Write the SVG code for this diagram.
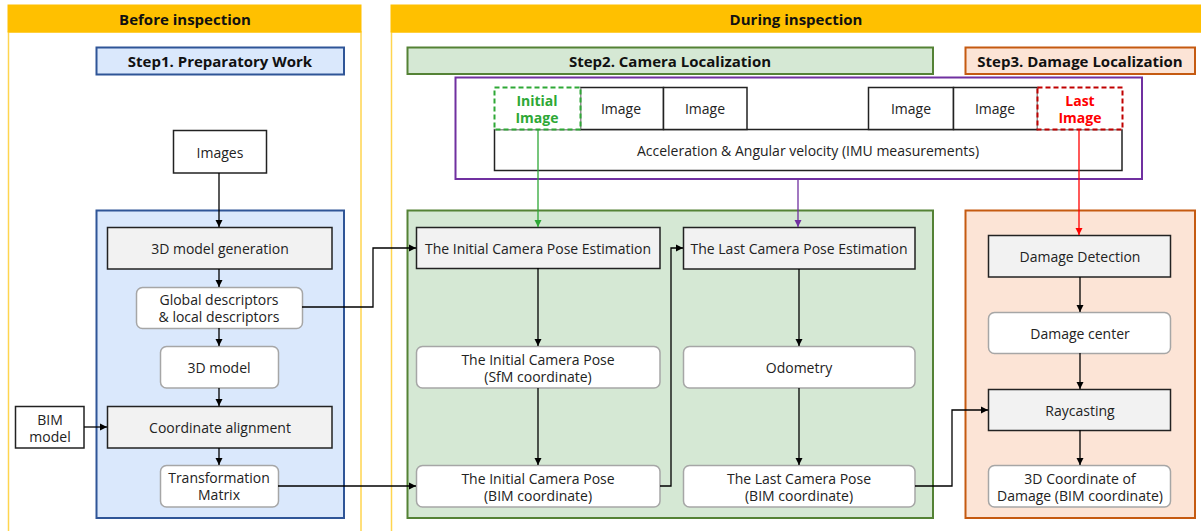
<svg xmlns="http://www.w3.org/2000/svg" width="1201" height="531" viewBox="0 0 1201 531">
<defs>
<marker id="ab" markerWidth="8" markerHeight="8" refX="7" refY="4" orient="auto" markerUnits="userSpaceOnUse"><path d="M0,0.5 L7,4 L0,7.5 z" fill="#000"/></marker>
<marker id="ag" markerWidth="8" markerHeight="8" refX="7" refY="4" orient="auto" markerUnits="userSpaceOnUse"><path d="M0,0.5 L7,4 L0,7.5 z" fill="#2EA836"/></marker>
<marker id="ap" markerWidth="8" markerHeight="8" refX="7" refY="4" orient="auto" markerUnits="userSpaceOnUse"><path d="M0,0.5 L7,4 L0,7.5 z" fill="#7030A0"/></marker>
<marker id="ar" markerWidth="8" markerHeight="8" refX="7" refY="4" orient="auto" markerUnits="userSpaceOnUse"><path d="M0,0.5 L7,4 L0,7.5 z" fill="#FF0000"/></marker>
</defs>
<style>
text{font-family:"Open Sans","Noto Sans","Liberation Sans",sans-serif;font-size:14px;fill:#222;text-anchor:middle;dominant-baseline:central}
.hd{font-weight:bold;font-size:15px;fill:#111}
.hdr{fill:#FFC000;stroke:#FFC000}
.pan{fill:#fff;stroke:#FFD54F;stroke-width:1.5}
.sq{fill:#F2F2F2;stroke:#222;stroke-width:1.5}
.rd{fill:#fff;stroke:#A6A6A6;stroke-width:1.5}
.pl{fill:#fff;stroke:#222;stroke-width:1.5}
.c{fill:none;stroke:#000;stroke-width:1.3}
</style>
<rect width="1201" height="531" fill="#fff"/>
<g id="before">
<rect class="pan" x="8.5" y="32" width="352.5" height="505"/>
<rect class="hdr" x="8" y="5" width="353" height="27"/>
<text class="hd" x="185" y="19">Before inspection</text>
</g>
<g id="during">
<rect class="pan" x="391.5" y="32" width="815" height="505"/>
<rect class="hdr" x="391" y="5" width="815" height="27"/>
<text class="hd" x="796" y="19">During inspection</text>
</g>
<g id="step1">
<rect x="96.5" y="47.5" width="247.5" height="27" fill="#DAE8FC" stroke="#2F5597" stroke-width="2"/>
<text class="hd" x="220" y="61">Step1. Preparatory Work</text>
</g>
<g id="step1panel"><rect x="96.5" y="210.5" width="247.5" height="307.5" fill="#DAE8FC" stroke="#2F5597" stroke-width="2"/></g>
<g id="step2">
<rect x="407.5" y="47.5" width="525.5" height="26.5" fill="#D5E8D4" stroke="#548235" stroke-width="2"/>
<text class="hd" x="670" y="61">Step2. Camera Localization</text>
</g>
<g id="step2panel"><rect x="407.5" y="210.5" width="525.5" height="307.5" fill="#D5E8D4" stroke="#548235" stroke-width="2"/></g>
<g id="step3">
<rect x="965.5" y="47.5" width="229.5" height="26.5" fill="#FCE4D6" stroke="#C55A11" stroke-width="2"/>
<text class="hd" x="1080" y="61">Step3. Damage Localization</text>
</g>
<g id="step3panel"><rect x="965.5" y="210.5" width="229.5" height="307.5" fill="#FCE4D6" stroke="#C55A11" stroke-width="2"/></g>
<g id="sensor">
<rect x="455.5" y="77.5" width="686.5" height="101.5" fill="#fff" stroke="#7030A0" stroke-width="2"/>
</g>
<g id="imu"><rect class="pl" x="494.5" y="129.5" width="627.5" height="41"/><text x="808" y="150">Acceleration &amp; Angular velocity (IMU measurements)</text></g>
<g id="img1"><rect class="pl" x="580.5" y="87.5" width="83" height="42"/><text x="621" y="108">Image</text></g>
<g id="img2"><rect class="pl" x="663.5" y="87.5" width="83.5" height="42"/><text x="705" y="108">Image</text></g>
<g id="img3"><rect class="pl" x="868.5" y="87.5" width="85" height="42"/><text x="911" y="108">Image</text></g>
<g id="img4"><rect class="pl" x="953.5" y="87.5" width="84" height="42"/><text x="995" y="108">Image</text></g>
<g id="initimg"><rect x="494.5" y="87.5" width="86" height="42" fill="#fff" stroke="#2EA836" stroke-width="2" stroke-dasharray="5,3"/><text x="537" y="100" style="fill:#2EA836;font-weight:bold">Initial</text><text x="537" y="117" style="fill:#2EA836;font-weight:bold">Image</text></g>
<g id="lastimg"><rect x="1037.5" y="87.5" width="85" height="42" fill="#fff" stroke="#C00000" stroke-width="2" stroke-dasharray="5,3"/><text x="1080" y="100" style="fill:#FF0000;font-weight:bold">Last</text><text x="1080" y="117" style="fill:#FF0000;font-weight:bold">Image</text></g>
<g id="images"><rect class="pl" x="173.5" y="130.5" width="93" height="42.5"/><text x="220" y="152">Images</text></g>
<g id="gen"><rect class="sq" x="107.5" y="227.5" width="224.5" height="41.5"/><text x="220" y="248">3D model generation</text></g>
<g id="desc"><rect class="rd" x="136.5" y="287.5" width="166" height="41" rx="6"/><text x="219" y="299">Global descriptors</text><text x="219" y="316">&amp; local descriptors</text></g>
<g id="model3d"><rect class="rd" x="160.5" y="346.5" width="118" height="41.5" rx="6"/><text x="219" y="367">3D model</text></g>
<g id="align"><rect class="sq" x="107.5" y="406.5" width="224.5" height="41.5"/><text x="220" y="427">Coordinate alignment</text></g>
<g id="bim"><rect class="pl" x="15.5" y="406.5" width="68.5" height="41.5"/><text x="50" y="419">BIM</text><text x="50" y="436">model</text></g>
<g id="tm"><rect class="rd" x="160.5" y="465.5" width="118" height="41.5" rx="6"/><text x="219" y="477">Transformation</text><text x="219" y="494">Matrix</text></g>
<g id="icpe"><rect class="sq" x="416.5" y="227.5" width="243.5" height="41"/><text x="538" y="248">The Initial Camera Pose Estimation</text></g>
<g id="lcpe"><rect class="sq" x="683.5" y="227.5" width="231.5" height="41.5"/><text x="799" y="248">The Last Camera Pose Estimation</text></g>
<g id="icpsfm"><rect class="rd" x="416.5" y="346.5" width="243.5" height="41.5" rx="6"/><text x="538" y="359">The Initial Camera Pose</text><text x="538" y="376">(SfM coordinate)</text></g>
<g id="odo"><rect class="rd" x="683.5" y="346.5" width="231.5" height="41.5" rx="6"/><text x="799" y="367">Odometry</text></g>
<g id="icpbim"><rect class="rd" x="416.5" y="465.5" width="243.5" height="41.5" rx="6"/><text x="538" y="478">The Initial Camera Pose</text><text x="538" y="495">(BIM coordinate)</text></g>
<g id="lcpbim"><rect class="rd" x="683.5" y="465.5" width="231.5" height="41.5" rx="6"/><text x="799" y="478">The Last Camera Pose</text><text x="799" y="495">(BIM coordinate)</text></g>
<g id="dd"><rect class="sq" x="988.5" y="235.5" width="182" height="41.5"/><text x="1080" y="256">Damage Detection</text></g>
<g id="dc"><rect class="rd" x="988.5" y="312.5" width="182" height="41" rx="6"/><text x="1080" y="333">Damage center</text></g>
<g id="ray"><rect class="sq" x="988.5" y="389.5" width="182" height="41"/><text x="1080" y="410">Raycasting</text></g>
<g id="coord"><rect class="rd" x="988.5" y="465.5" width="182" height="41.5" rx="6"/><text x="1080" y="478">3D Coordinate of</text><text x="1080" y="495">Damage (BIM coordinate)</text></g>
<g id="connectors">
<path class="c" d="M219,173 V227" marker-end="url(#ab)"/>
<path class="c" d="M219,269 V287" marker-end="url(#ab)"/>
<path class="c" d="M219,328 V346" marker-end="url(#ab)"/>
<path class="c" d="M219,388 V406" marker-end="url(#ab)"/>
<path class="c" d="M219,448 V465" marker-end="url(#ab)"/>
<path class="c" d="M84,427 H107" marker-end="url(#ab)"/>
<path class="c" d="M302,307 H373 V248 H416" marker-end="url(#ab)"/>
<path class="c" d="M278,486 H416" marker-end="url(#ab)"/>
<path class="c" d="M538,268 V346" marker-end="url(#ab)"/>
<path class="c" d="M538,388 V465" marker-end="url(#ab)"/>
<path class="c" d="M660,486 H671 V248 H683" marker-end="url(#ab)"/>
<path class="c" d="M799,269 V346" marker-end="url(#ab)"/>
<path class="c" d="M799,388 V465" marker-end="url(#ab)"/>
<path class="c" d="M915,486 H952 V410 H988" marker-end="url(#ab)"/>
<path class="c" d="M1080,277 V312" marker-end="url(#ab)"/>
<path class="c" d="M1080,353 V389" marker-end="url(#ab)"/>
<path class="c" d="M1080,430 V465" marker-end="url(#ab)"/>
<path d="M538,129 V227" fill="none" stroke="#2EA836" stroke-width="1.3" marker-end="url(#ag)"/>
<path d="M798,179 V227" fill="none" stroke="#7030A0" stroke-width="1.3" marker-end="url(#ap)"/>
<path d="M1079,129 V235" fill="none" stroke="#FF0000" stroke-width="1.3" marker-end="url(#ar)"/>
</g>
</svg>
